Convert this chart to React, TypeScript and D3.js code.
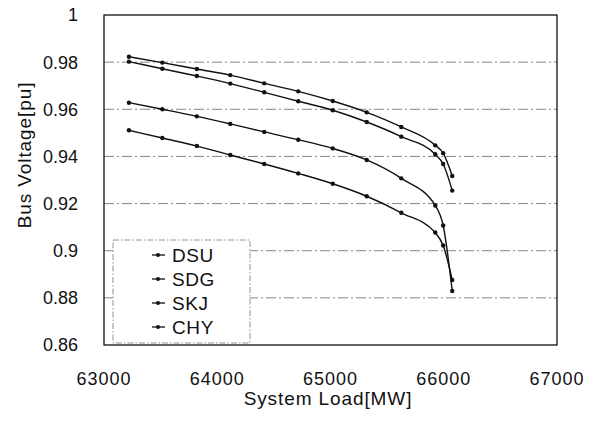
import React from "react";
import * as d3 from "d3";

const loads = [63220, 63515, 63820, 64115, 64415, 64715, 65020, 65320, 65625, 65925, 65995, 66075];
const seriesNames = ["DSU", "SDG", "SKJ", "CHY"];
const dsu = [0.9823, 0.9798, 0.9771, 0.9745, 0.971, 0.9676, 0.9635, 0.9587, 0.9525, 0.9447, 0.9414, 0.9317];
const sdg = [0.9802, 0.9772, 0.9741, 0.9709, 0.9672, 0.9634, 0.9596, 0.9546, 0.9484, 0.9409, 0.9368, 0.9255];
const skj = [0.9628, 0.96, 0.957, 0.9538, 0.9504, 0.9471, 0.9434, 0.9385, 0.9307, 0.9192, 0.9107, 0.8829];
const chy = [0.9511, 0.9478, 0.9444, 0.9406, 0.9368, 0.9328, 0.9284, 0.9231, 0.9161, 0.9077, 0.9022, 0.8876];
const seriesValues = [dsu, sdg, skj, chy];
const xTicks = [63000, 64000, 65000, 66000, 67000];
const yTicks = [0.86, 0.88, 0.9, 0.92, 0.94, 0.96, 0.98, 1];

export default function App() {
  const W = 599, H = 424;
  const left = 104, right = 557, top = 15, bottom = 345;
  const x = d3.scaleLinear().domain([63000, 67000]).range([left, right]);
  const y = d3.scaleLinear().domain([0.86, 1]).range([bottom, top]);
  const line = d3
    .line<[number, number]>()
    .x((d) => x(d[0]))
    .y((d) => y(d[1]))
    .curve(d3.curveMonotoneX);
  const font = "'Liberation Sans', Arial, sans-serif";
  const yFmt = (v: number) => (v === 1 ? "1" : String(+v.toFixed(2)));
  const legX = 152, legY0 = 255, legStep = 24;
  return (
    <svg width={W} height={H} style={{ position: "absolute", left: 0, top: 0, background: "#fff" }} fontFamily={font}>
      <rect x={0} y={0} width={W} height={H} fill="#fff" />
      {yTicks.filter((t) => t > 0.86 && t < 1).map((t) => (
        <line key={t} x1={left} x2={right} y1={y(t)} y2={y(t)} stroke="#777" strokeWidth={0.9} strokeDasharray="10,3,2,3" />
      ))}
      <rect x={left} y={top} width={right - left} height={bottom - top} fill="none" stroke="#111" strokeWidth={1.3} />
      {yTicks.map((t) => (
        <text key={t} x={78} y={y(t)} dy="0.36em" textAnchor="end" fontSize={18} fill="#111">
          {yFmt(t)}
        </text>
      ))}
      {xTicks.map((t) => (
        <text key={t} x={x(t)} y={385} textAnchor="middle" fontSize={18} letterSpacing={1} fill="#111">
          {t}
        </text>
      ))}
      <text x={328} y={405} textAnchor="middle" fontSize={19} letterSpacing={0.9} fill="#111">
        System Load[MW]
      </text>
      <text transform={`translate(31,155) rotate(-90)`} textAnchor="middle" fontSize={19} letterSpacing={0.9} fill="#111">
        Bus Voltage[pu]
      </text>
      {seriesValues.map((vals, i) => {
        const pts: [number, number][] = loads.map((l, j) => [l, vals[j]]);
        return (
          <g key={seriesNames[i]}>
            <path d={line(pts) || ""} fill="none" stroke="#111" strokeWidth={1.4} />
            {pts.map((p, j) => (
              <circle key={j} cx={x(p[0])} cy={y(p[1])} r={2.2} fill="#111" />
            ))}
          </g>
        );
      })}
      <rect x={113} y={240} width={137} height={103} fill="#fff" stroke="#888" strokeWidth={0.9} strokeDasharray="6,2,1.5,2" />
      {seriesNames.map((n, i) => (
        <g key={n}>
          <line x1={legX} x2={legX + 13} y1={legY0 + i * legStep} y2={legY0 + i * legStep} stroke="#111" strokeWidth={1.3} />
          <circle cx={legX + 6} cy={legY0 + i * legStep} r={2} fill="#111" />
          <text x={172} y={legY0 + i * legStep} dy="0.36em" fontSize={19} letterSpacing={0.6} fill="#111">
            {n}
          </text>
        </g>
      ))}
    </svg>
  );
}
